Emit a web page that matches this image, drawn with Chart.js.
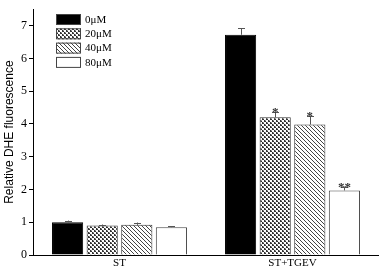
<!DOCTYPE html>
<html>
<head>
<meta charset="utf-8">
<script src="https://cdn.jsdelivr.net/npm/chart.js@4"></script>
<style>
  html, body { margin: 0; padding: 0; background: #fff; }
  #wrap { width: 379px; height: 271px; }
</style>
</head>
<body>
<div id="wrap"><canvas id="dhe"></canvas></div>
<script>
// data
var groups = ['ST', 'ST+TGEV'];
var doses = ['0\u03bcM', '20\u03bcM', '40\u03bcM', '80\u03bcM'];
var dose0 = [1.00, 6.72];
var dose20 = [0.90, 4.20];
var dose40 = [0.92, 3.98];
var dose80 = [0.85, 1.97];
var err0 = [0.05, 0.20];
var err20 = [0.03, 0.15];
var err40 = [0.07, 0.27];
var err80 = [0.03, 0.12];
var marks0 = ['', ''];
var marks20 = ['', '*'];
var marks40 = ['', '*'];
var marks80 = ['', '**'];
var yTicks = [0, 1, 2, 3, 4, 5, 6, 7];

function makePattern(kind) {
  var c = document.createElement('canvas');
  var g = c.getContext('2d');
  if (kind == 'cross') {
    c.width = 4; c.height = 4;
    g.fillStyle = '#fff'; g.fillRect(0, 0, 4, 4);
    g.fillStyle = '#333';
    g.fillRect(0, 0, 2, 2); g.fillRect(2, 2, 2, 2);
    g.fillStyle = '#999';
    g.fillRect(1, 0, 1, 1); g.fillRect(3, 2, 1, 1);
  } else {
    c.width = 4; c.height = 4;
    g.fillStyle = '#fff'; g.fillRect(0, 0, 4, 4);
    g.fillStyle = '#444';
    for (var i = 0; i < 4; i++) { g.fillRect(i, i, 1, 1); }
  }
  return g.createPattern(c, 'repeat');
}

var fills = ['#000', makePattern('cross'), makePattern('diag'), '#fff'];
var errs = [err0, err20, err40, err80];
var marks = [marks0, marks20, marks40, marks80];

var errorBars = {
  id: 'errorBars',
  afterDatasetsDraw: function (chart) {
    var ctx = chart.ctx;
    var y = chart.scales.y;
    ctx.save();
    chart.data.datasets.forEach(function (ds, di) {
      var meta = chart.getDatasetMeta(di);
      meta.data.forEach(function (bar, i) {
        var top = y.getPixelForValue(ds.data[i] + errs[di][i]);
        ctx.strokeStyle = '#555';
        ctx.lineWidth = 1;
        ctx.beginPath();
        ctx.moveTo(Math.round(bar.x) + 0.5, bar.y);
        ctx.lineTo(Math.round(bar.x) + 0.5, top);
        ctx.moveTo(Math.round(bar.x) - 3, Math.round(top) + 0.5);
        ctx.lineTo(Math.round(bar.x) + 4, Math.round(top) + 0.5);
        ctx.stroke();
        if (marks[di][i]) {
          ctx.fillStyle = '#333';
          ctx.font = 'bold 13px "Liberation Serif"';
          ctx.textAlign = 'center';
          ctx.textBaseline = 'alphabetic';
          ctx.fillText(marks[di][i], bar.x, top + 4);
        }
      });
    });
    ctx.restore();
  }
};

var boxLegend = {
  id: 'boxLegend',
  afterDraw: function (chart) {
    var ctx = chart.ctx;
    ctx.save();
    doses.forEach(function (lab, i) {
      var bx = 56, by = 14 + i * 14.3;
      ctx.fillStyle = fills[i];
      ctx.fillRect(bx, by, 25, 11);
      ctx.strokeStyle = '#444';
      ctx.lineWidth = 1;
      ctx.strokeRect(bx + 0.5, by + 0.5, 24, 10);
      ctx.fillStyle = '#000';
      ctx.font = '11px "Liberation Serif"';
      ctx.textAlign = 'left';
      ctx.textBaseline = 'middle';
      ctx.fillText(lab, 85, by + 6);
    });
    ctx.restore();
  }
};

var ctx = document.getElementById('dhe');
new Chart(ctx, {
  type: 'bar',
  data: {
    labels: groups,
    datasets: [
      { label: doses[0], data: dose0, backgroundColor: fills[0], borderColor: '#000', borderWidth: 1 },
      { label: doses[1], data: dose20, backgroundColor: fills[1], borderColor: '#333', borderWidth: 1 },
      { label: doses[2], data: dose40, backgroundColor: fills[2], borderColor: '#333', borderWidth: 1 },
      { label: doses[3], data: dose80, backgroundColor: fills[3], borderColor: '#444', borderWidth: 1 },
    ]
  },
  options: {
    animation: false,
    responsive: true,
    maintainAspectRatio: false,
    layout: { padding: { top: 0, right: 0, left: 0, bottom: 0 } },
    plugins: {
      legend: { display: false },
      tooltip: { enabled: false },
    },
    scales: {
      x: {
        grid: { display: false, drawTicks: false, tickLength: 0 },
        border: { display: true, color: '#000', width: 1 },
        categoryPercentage: 0.8,
        barPercentage: 1.0,
        ticks: {
          color: '#000',
          font: { family: 'Liberation Serif', size: 11 },
          padding: 2,
        },
        afterFit: function (s) { s.height = 16; },
      },
      y: {
        min: 0,
        max: 7.5,
        afterBuildTicks: function (s) {
          s.ticks = yTicks.map(function (v) { return { value: v }; });
        },
        grid: { drawOnChartArea: false, drawTicks: true, tickLength: 4, color: '#000' },
        border: { display: true, color: '#000', width: 1 },
        ticks: {
          color: '#000',
          font: { family: 'Liberation Serif', size: 12 },
          padding: 2,
        },
        title: {
          display: true,
          text: 'Relative DHE fluorescence',
          color: '#000',
          font: { family: 'Liberation Sans', size: 12 },
          padding: { top: 2, bottom: 0 },
        },
        afterFit: function (s) { s.width = 33; },
      }
    }
  },
  plugins: [errorBars, boxLegend]
});
</script>
</body>
</html>
